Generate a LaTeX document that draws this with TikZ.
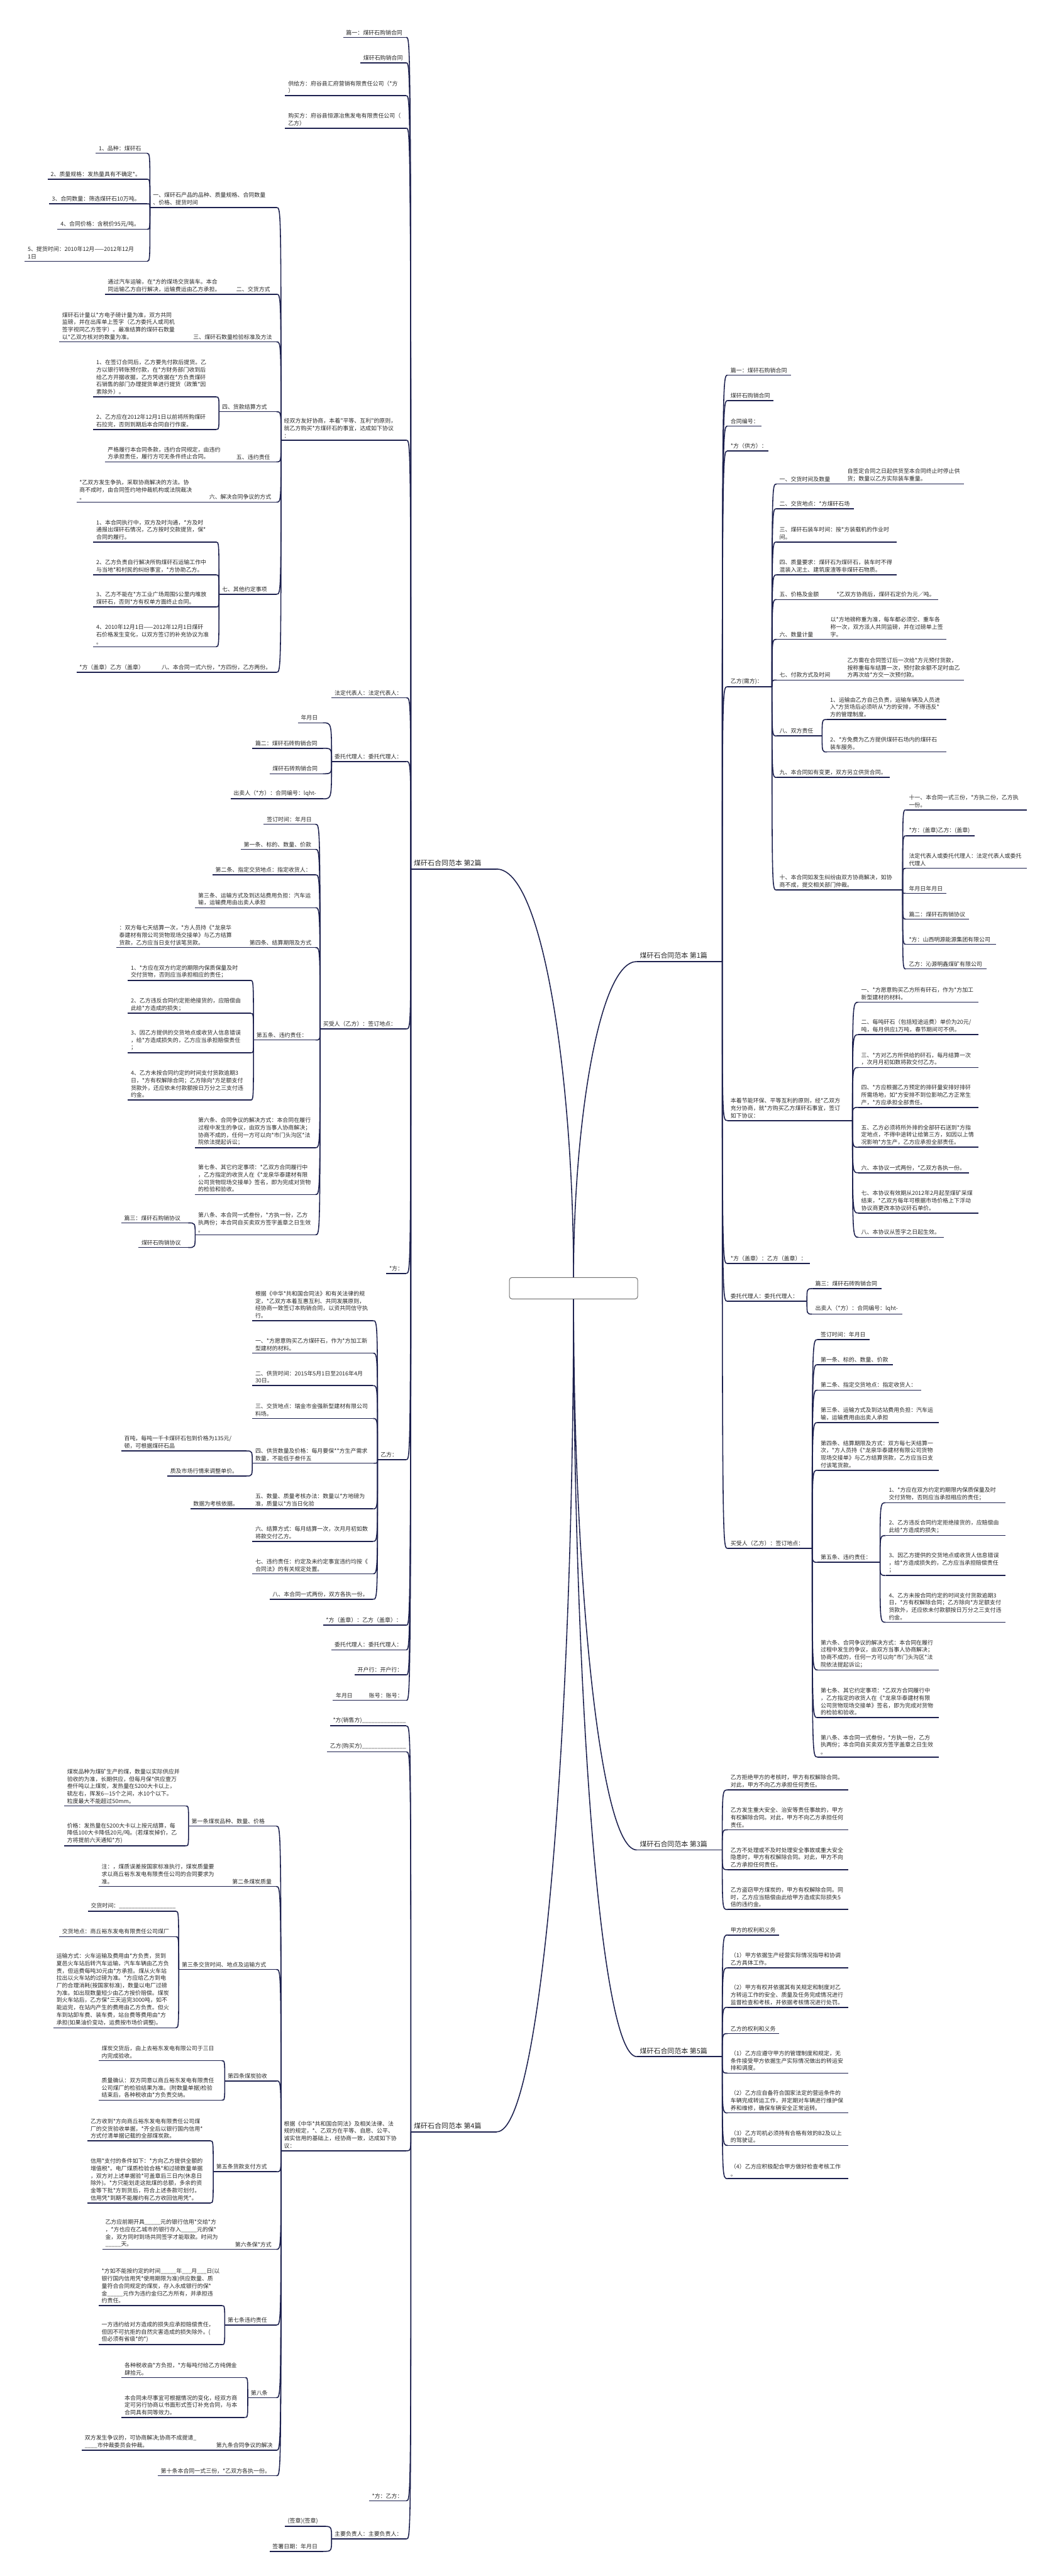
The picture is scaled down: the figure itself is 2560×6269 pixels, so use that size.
\documentclass[tikz,border=0pt]{standalone}
\usepackage{fontspec}
\usetikzlibrary{calc}
\newfontfamily\cjk{Noto Sans CJK SC}
\definecolor{linec}{RGB}{28,32,78}
\definecolor{txtc}{RGB}{40,40,40}
\tikzset{
  txt/.style={anchor=south west, align=left, inner xsep=3.5pt, inner ysep=2.6pt, text=txtc, font=\cjk\fontsize{6.85pt}{8.95pt}\selectfont},
  bigtxt/.style={txt, font=\cjk\fontsize{8.4pt}{10.4pt}\selectfont, inner ysep=3pt},
  ul/.style={draw=linec, line width=1.2pt},
  cn/.style={draw=linec, line width=1.2pt},
  rootbox/.style={draw=black!55, fill=white, rounded corners=3pt, line width=0.8pt, minimum width=156pt, minimum height=26pt}
}
\newcommand\mmN[5]{\coordinate (#1-l) at (#2,#4);\coordinate (#1-r) at (#3,#4);\node[txt] (#1) at (#1-l) {#5};\draw[ul] (#1-l) -- (#1-r);}
\newcommand\mmB[5]{\coordinate (#1-l) at (#2,#4);\coordinate (#1-r) at (#3,#4);\node[bigtxt] (#1) at (#1-l) {#5};\draw[ul] (#1-l) -- (#1-r);}
\newcommand\mmL[2]{\draw[cn] (#1-l) .. controls (#1-l |- #2-r) .. (#2-r);}
\newcommand\mmR[2]{\draw[cn] (#1-r) .. controls (#1-r |- #2-l) .. (#2-l);}
\begin{document}
\begin{tikzpicture}[x=0.5pt,y=-0.5pt]
\fill[white] (0,0) rectangle (2560,6269);
\useasboundingbox (0,0) rectangle (2560,6269);
\node[rootbox] (root) at (1396,3135) {};
% first level
\mmB{L2}{1000}{1209}{2115}{煤矸石合同范本 第2篇}
\mmB{L4}{1000}{1209}{5188}{煤矸石合同范本 第4篇}
\mmB{R1}{1550}{1758}{2340}{煤矸石合同范本 第1篇}
\mmB{R3}{1550}{1758}{4502}{煤矸石合同范本 第3篇}
\mmB{R5}{1550}{1758}{5005}{煤矸石合同范本 第5篇}
\foreach \c in {L2,L4} {\draw[cn] (root) .. controls ($(root.center)!0.5!(root.center |- \c-r)$) and ($(\c-r)!0.6!(root.center |- \c-r)$) .. (\c-r);}
\foreach \c in {R1,R3,R5} {\draw[cn] (root) .. controls ($(root.center)!0.5!(root.center |- \c-l)$) and ($(\c-l)!0.6!(root.center |- \c-l)$) .. (\c-l);}
% ---------- 第2篇 ----------
\mmN{a1}{835}{989}{91}{篇一：煤矸石购销合同}
\mmN{a2}{877}{989}{153}{煤矸石购销合同}
\mmN{a3}{694}{989}{233}{供给方：府谷县汇府营销有限责任公司（*方\\）}
\mmN{a4}{694}{989}{312}{购买方：府谷县恒源冶焦发电有限责任公司（\\乙方）}
\mmN{a5}{684}{989}{1071}{经双方友好协商，本着"平等、互利"的原则，\\就乙方购买*方煤矸石的事宜，达成如下协议\\：}
\mmN{a6}{807}{989}{1698}{法定代表人：法定代表人：}
\mmN{a7}{807}{989}{1853}{委托代理人：委托代理人：}
\mmN{a8}{779}{989}{2504}{买受人（乙方）：签订地点：}
\mmN{a9}{940}{989}{3099}{*方：}
\mmN{a10}{919}{989}{3552}{乙方：}
\mmN{a11}{786}{989}{3955}{*方（盖章）：乙方（盖章）：}
\mmN{a12}{807}{989}{4015}{委托代理人：委托代理人：}
\mmN{a13}{863}{989}{4076}{开户行：开户行：}
\mmN{a14}{891}{989}{4138}{账号：账号：}
\mmN{a14a}{810}{885}{4138}{年月日}
% a5 subtree
\mmN{a5a}{365}{673}{505}{一、煤矸石产品的品种、质量规格、合同数量\\、价格、提货时间}
\mmN{a5a1}{233}{358}{373}{1、品种：煤矸石}
\mmN{a5a2}{116}{358}{436}{2、质量规格：发热量具有不确定*。}
\mmN{a5a3}{119}{358}{496}{3、合同数量：筛选煤矸石10万吨。}
\mmN{a5a4}{140}{358}{558}{4、合同价格：含税价95元/吨。}
\mmN{a5a5}{60}{358}{636}{5、提货时间：2010年12月——2012年12月\\1日}
\mmN{a5b}{568}{673}{716}{二、交货方式}
\mmN{a5b1}{255}{565}{716}{通过汽车运输，在*方的煤场交货装车。本合\\同运输乙方自行解决，运输费运由乙方承担。}
\mmN{a5c}{463}{673}{832}{三、煤矸石数量检验标准及方法}
\mmN{a5c1}{144}{460}{832}{煤矸石计量以*方电子磅计量为准，双方共同\\监磅，并在出库单上签字（乙方委托人或司机\\签字视同乙方签字）。最准结算的煤矸石数量\\以*乙双方核对的数量为准。}
\mmN{a5d}{533}{673}{1002}{四、货款结算方式}
\mmN{a5d1}{227}{526}{966}{1、在签订合同后，乙方要先付款后提货。乙\\方以银行转账预付款，在*方财务部门收到后\\给乙方开据收据，乙方凭收据在*方负责煤矸\\石销售的部门办理提货单进行提货（政策*因\\素除外）。}
\mmN{a5d2}{227}{526}{1045}{2、乙方应在2012年12月1日以前将所购煤矸\\石拉完，否则到期后本合同自行作废。}
\mmN{a5e}{568}{673}{1124}{五、违约责任}
\mmN{a5e1}{255}{565}{1124}{严格履行本合同条款，违约合同规定，由违约\\方承担责任，履行方可无条件终止合同。}
\mmN{a5f}{502}{673}{1222}{六、解决合同争议的方式}
\mmN{a5f1}{186}{499}{1222}{*乙双方发生争执，采取协商解决的方法。协\\商不成时，由合同签约地仲裁机构或法院裁决\\。}
\mmN{a5g}{533}{673}{1446}{七、其他约定事项}
\mmN{a5g1}{227}{526}{1319}{1、本合同执行中，双方及时沟通，*方及时\\通报出煤矸石情况，乙方按时交款提货，保*\\合同的履行。}
\mmN{a5g2}{227}{526}{1399}{2、乙方负责自行解决所购煤矸石运输工作中\\与当地*和村民的纠纷事宜，*方协助乙方。}
\mmN{a5g3}{227}{526}{1477}{3、乙方不能在*方工业广场周围5公里内堆放\\煤矸石，否则*方有权单方面终止合同。}
\mmN{a5g4}{227}{526}{1574}{4、2010年12月1日——2012年12月1日煤矸\\石价格发生变化，以双方签订的补充协议为准\\。}
\mmN{a5h}{386}{673}{1636}{八、本合同一式六份，*方四份，乙方两份。}
\mmN{a5h1}{186}{383}{1636}{*方（盖章）乙方（盖章）}
% a7 subtree
\mmN{a7a}{725}{786}{1759}{年月日}
\mmN{a7b}{614}{786}{1821}{篇二：煤矸石砖购销合同}
\mmN{a7c}{656}{786}{1883}{煤矸石砖购销合同}
\mmN{a7d}{561}{786}{1944}{出卖人（*方）：合同编号：lqht-}
% a8 subtree
\mmN{a8a}{642}{768}{2006}{签订时间：年月日}
\mmN{a8b}{586}{768}{2067}{第一条、标的、数量、价款}
\mmN{a8c}{517}{768}{2129}{第二条、指定交货地点：指定收货人：}
\mmN{a8d}{475}{768}{2209}{第三条、运输方式及到达站费用负担：汽车运\\输，运输费用由出卖人承担}
\mmN{a8e}{600}{768}{2306}{第四条、结算期限及方式}
\mmN{a8e1}{283}{597}{2306}{：双方每七天结算一次，*方人员持《*龙泉华\\泰建材有限公司货物现场交接单》与乙方结算\\货款，乙方应当日支付该笔货款。}
\mmN{a8f}{617}{768}{2531}{第五条、违约责任：}
\mmN{a8f1}{311}{610}{2386}{1、*方应在双方约定的期限内保质保量及时\\交付货物，否则应当承担相应的责任；}
\mmN{a8f2}{311}{610}{2466}{2、乙方违反合同约定拒绝接货的，应赔偿由\\此给*方造成的损失；}
\mmN{a8f3}{311}{610}{2562}{3、因乙方提供的交货地点或收货人信息错误\\，给*方造成损失的，乙方应当承担赔偿责任\\；}
\mmN{a8f4}{311}{610}{2677}{4、乙方未按合同约定的时间支付货款逾期3\\日，*方有权解除合同；乙方除向*方足额支付\\货款外，还应依未付款额按日万分之三支付违\\约金。}
\mmN{a8g}{475}{768}{2793}{第六条、合同争议的解决方式：本合同在履行\\过程中发生的争议，由双方当事人协商解决；\\协商不成的，任何一方可以向*市门头沟区*法\\院依法提起诉讼；}
\mmN{a8h}{475}{768}{2907}{第七条、其它约定事项：*乙双方合同履行中\\，乙方指定的收货人在《*龙泉华泰建材有限\\公司货物现场交接单》签名，即为完成对货物\\的检验和验收。}
\mmN{a8i}{475}{768}{3005}{第八条、本合同一式叁份，*方执一份，乙方\\执两份；本合同自买卖双方签字盖章之日生效\\。}
\mmN{a8i1}{295}{458}{2976}{篇三：煤矸石购销协议}
\mmN{a8i2}{337}{458}{3036}{煤矸石购销协议}
% a10 subtree
\mmN{a10a}{614}{908}{3214}{根据《中华*共和国合同法》和有关法律的规\\定，*乙双方本着互惠互利、共同发展原则，\\经协商一致签订本购销合同，以资共同信守执\\行。}
\mmN{a10b}{614}{908}{3293}{一、*方愿意购买乙方煤矸石，作为*方加工新\\型建材的材料。}
\mmN{a10c}{614}{908}{3372}{二、供货时间：2015年5月1日至2016年4月\\30日。}
\mmN{a10d}{614}{908}{3452}{三、交货地点：瑞金市金强新型建材有限公司\\料场。}
\mmN{a10e}{614}{908}{3561}{四、供货数量及价格：每月要保**方生产需求\\数量，不能低于叁仟五}
\mmN{a10e1}{295}{600}{3531}{百吨，每吨一千卡煤矸石包到价格为135元/\\顿，可根据煤矸石品}
\mmN{a10e2}{407}{600}{3592}{质及市场行情来调整单价。}
\mmN{a10f}{614}{908}{3672}{五、数量、质量考核办法：数量以*方地磅为\\准，质量以*方当日化验}
\mmN{a10f1}{463}{608}{3672}{数据为考核依据。}
\mmN{a10g}{614}{908}{3751}{六、结算方式：每月结算一次，次月月初如数\\将款交付乙方。}
\mmN{a10h}{614}{908}{3830}{七、违约责任：约定及未约定事宜违约均按《\\合同法》的有关规定处置。}
\mmN{a10i}{656}{908}{3892}{八、本合同一式两份，双方各执一份。}
% ---------- 第4篇 ----------
\mmN{d1}{803}{989}{4200}{*方(销售方)\_\_\_\_\_\_\_\_\_\_\_\_\_\_}
\mmN{d2}{796}{989}{4263}{乙方(购买方)\_\_\_\_\_\_\_\_\_\_\_\_\_\_}
\mmN{d3}{684}{989}{5234}{根据《中华*共和国合同法》及相关法律、法\\规的规定，*、乙双方在平等、自愿、公平、\\诚实信用的基础上，经协商一致，达成如下协\\议：}
\mmN{d4}{898}{989}{6086}{*方：乙方：}
\mmN{d5}{807}{989}{6179}{主要负责人：主要负责人：}
\mmN{d5a}{693}{786}{6148}{(签章)(签章)}
\mmN{d5b}{656}{786}{6209}{签署日期：年月日}
\mmN{d3a}{459}{673}{4444}{第一条煤炭品种、数量、价格}
\mmN{d3a1}{156}{452}{4395}{煤炭品种为煤矿生产的煤，数量以实际供应并\\验收的为准，长期供应，但每月保*供应壹万\\叁仟吨以上煤炭，发热量在5200大卡以上，\\硫左右，挥发6—15个之间，水10个以下。\\粒度最大不能超过50mm。}
\mmN{d3a2}{156}{452}{4492}{价格：发热量在5200大卡以上按元结算，每\\降低100大卡降低20元/吨。(若煤炭掉价，乙\\方将提前六天通知*方)}
\mmN{d3b}{558}{673}{4591}{第二条煤炭质量}
\mmN{d3b1}{240}{555}{4591}{注：，煤质误差按国家标准执行，煤炭质量要\\求以商丘裕东发电有限责任公司的合同要求为\\准。}
\mmN{d3c}{435}{673}{4793}{第三条交货时间、地点及运输方式}
\mmN{d3c1}{214}{428}{4651}{交货时间：\_\_\_\_\_\_\_\_\_\_\_\_\_\_\_\_\_\_}
\mmN{d3c2}{144}{428}{4713}{交货地点：商丘裕东发电有限责任公司煤厂}
\mmN{d3c3}{130}{428}{4935}{运输方式：火车运输及费用由*方负责，货到\\夏邑火车站后转汽车运输，汽车车辆由乙方负\\责，但运费每吨30元由*方承担。煤从火车站\\拉出以火车站的过磅为准。*方应给乙方到电\\厂的合理消耗(按国家标准)，数量以电厂过磅\\为准。如出现数量短少由乙方按价赔偿。煤炭\\到火车站后，乙方保*三天运完3000吨，如不\\能运完，在站内产生的费用由乙方负责。但火\\车到站卸车费、装车费，站台费等费用由*方\\承担(如果油价变动，运费按市场价调整)。}
\mmN{d3d}{547}{673}{5064}{第四条煤炭验收}
\mmN{d3d1}{240}{540}{5015}{煤炭交货后，由上去裕东发电有限公司于三日\\内完成验收。}
\mmN{d3d2}{240}{540}{5111}{质量确认：双方同意以商丘裕东发电有限责任\\公司煤厂的检验结果为准。(附数量单据)检验\\结束后，各种税收由*方负责交纳。}
\mmN{d3e}{519}{673}{5285}{第五条货款支付方式}
\mmN{d3e1}{213}{512}{5210}{乙方收到*方向商丘裕东发电有限责任公司煤\\厂的交货验收单据，*齐全后以银行国内信用*\\方式付清单据记载的全部煤炭款。}
\mmN{d3e2}{213}{512}{5361}{信用*支付的条件如下：*方向乙方提供全额的\\增值税*。电厂煤质检验合格*和过磅数量单据\\，双方对上述单据验*可盖章后三日内(休息日\\除外)。*方只能划走这批煤的总额，多余的资\\金等下批*方到货后，符合上述条款可划付。\\信用凭*到期不能履约有乙方收回信用凭*。}
\mmN{d3f}{565}{673}{5474}{第六条保*方式}
\mmN{d3f1}{249}{562}{5474}{乙方应前期开具\_\_\_\_\_元的银行信用*交给*方\\，*方也应在乙城市的银行存入\_\_\_\_\_元的保*\\金，双方同时到场共同签字才能取款。时间为\\\_\_\_\_\_天。}
\mmN{d3g}{547}{673}{5658}{第七条违约责任}
\mmN{d3g1}{240}{540}{5611}{*方如不能按约定的时间\_\_\_\_\_年\_\_\_月\_\_\_日(以\\银行国内信用凭*使用期限为准)供应数量、质\\量符合合同规定的煤炭，存入永成银行的保*\\金\_\_\_\_\_元作为违约金归乙方所有，并承担违\\约责任。}
\mmN{d3g2}{240}{540}{5706}{一方违约给对方造成的损失应承担赔偿责任，\\但因不可抗拒的自然灾害造成的损失除外。(\\但必须有省级*的*)}
\mmN{d3h}{603}{673}{5835}{第八条}
\mmN{d3h1}{296}{596}{5786}{各种税收由*方负担，*方每吨付给乙方纯佣金\\肆拾元。}
\mmN{d3h2}{296}{596}{5883}{本合同未尽事宜可根据情况的变化，经双方商\\定可另行协商以书面形式签订补充合同，与本\\合同具有同等效力。}
\mmN{d3i}{519}{673}{5963}{第九条合同争议的解决}
\mmN{d3i1}{199}{516}{5963}{双方发生争议的，可协商解决;协商不成提请\_\\\_\_\_\_市仲裁委员会仲裁。}
\mmN{d3j}{384}{673}{6025}{第十条本合同一式三份，*乙双方各执一份。}
% ---------- 第1篇 ----------
\mmN{b1}{1771}{1925}{913}{篇一：煤矸石购销合同}
\mmN{b2}{1771}{1883}{975}{煤矸石购销合同}
\mmN{b3}{1771}{1854}{1037}{合同编号：}
\mmN{b4}{1771}{1870}{1097}{*方（供方）：}
\mmN{b5}{1771}{1879}{1671}{乙方(需方)：}
\mmN{b5a}{1890}{2052}{1178}{一、交货时间及数量}
\mmN{b5a1}{2055}{2347}{1178}{自签定合同之日起供货至本合同终止时停止供\\货；数量以乙方实际装车重量。}
\mmN{b5b}{1890}{2078}{1238}{二、交货地点：*方煤矸石场}
\mmN{b5c}{1890}{2182}{1319}{三、煤矸石装车时间：按*方装载机的作业时\\间。}
\mmN{b5d}{1890}{2182}{1399}{四、质量要求：煤矸石为煤矸石，装车时不得\\混装入泥土、建筑废渣等非煤矸石物质。}
\mmN{b5e}{1890}{2026}{1459}{五、价格及金额}
\mmN{b5e1}{2029}{2283}{1459}{*乙双方协商后，煤矸石定价为元／吨。}
\mmN{b5f}{1890}{2011}{1556}{六、数量计量}
\mmN{b5f1}{2014}{2304}{1556}{以*方地磅称重为准，每车都必须空、重车各\\称一次，双方派人共同监磅，并在过磅单上签\\字。}
\mmN{b5g}{1890}{2052}{1655}{七、付款方式及时间}
\mmN{b5g1}{2055}{2347}{1655}{乙方需在合同签订后一次给*方元预付货款，\\按称重每车结算一次，预付款余额不足时由乙\\方再次给*方交一次预付款。}
\mmN{b5h}{1890}{2001}{1791}{八、双方责任}
\mmN{b5h1}{2013}{2304}{1751}{1、运输由乙方自己负责，运输车辆及人员进\\入*方货场后必须听从*方的安排，不得违反*\\方的管理制度。}
\mmN{b5h2}{2013}{2304}{1830}{2、*方免费为乙方提供煤矸石场内的煤矸石\\装车服务。}
\mmN{b5i}{1890}{2166}{1892}{九、本合同如有变更，双方另立供货合同。}
\mmN{b5j}{1890}{2197}{2166}{十、本合同如发生纠纷由双方协商解决，如协\\商不成，提交相关部门仲裁。}
\mmN{b5j1}{2205}{2500}{1971}{十一、本合同一式三份，*方执二份，乙方执\\一份。}
\mmN{b5j2}{2205}{2372}{2034}{*方：(盖章)乙方：(盖章)}
\mmN{b5j3}{2205}{2500}{2113}{法定代表人或委托代理人：法定代表人或委托\\代理人}
\mmN{b5j4}{2205}{2304}{2174}{年月日年月日}
\mmN{b5j5}{2205}{2359}{2237}{篇二：煤矸石购销协议}
\mmN{b5j6}{2205}{2424}{2298}{*方：山西明源能源集团有限公司}
\mmN{b5j7}{2205}{2402}{2358}{乙方：沁源明鑫煤矿有限公司}
\mmN{b6}{1771}{2075}{2727}{本着节能环保、平等互利的原则，经*乙双方\\充分协商，就*方购买乙方煤矸石事宜，签订\\如下协议：}
\mmN{b6a}{2089}{2381}{2439}{一、*方愿意购买乙方所有矸石，作为*方加工\\新型建材的材料。}
\mmN{b6b}{2089}{2381}{2518}{二、每吨矸石（包括短途运费）单价为20元/\\吨，每月供应1万吨，春节期间可不供。}
\mmN{b6c}{2089}{2381}{2598}{三、*方对乙方所供给的矸石，每月结算一次\\，次月月初如数将款交付乙方。}
\mmN{b6d}{2089}{2381}{2695}{四、*方应根据乙方预定的排矸量安排好排矸\\所需场地，如*方安排不到位影响乙方正常生\\产，*方应承担全部责任。}
\mmN{b6e}{2089}{2381}{2792}{五、乙方必须将所外排的全部矸石送到*方指\\定地点，不得中途转让给第三方，如因以上情\\况影响*方生产，乙方应承担全部责任。}
\mmN{b6f}{2089}{2359}{2854}{六、本协议一式两份，*乙双方各执一份。}
\mmN{b6g}{2089}{2381}{2952}{七、本协议有效期从2012年2月起至煤矿采煤\\结束，*乙双方每年可根据市场价格上下浮动\\协议商更改本协议矸石单价。}
\mmN{b6h}{2089}{2298}{3011}{八、本协议从签字之日起生效。}
\mmN{b7}{1771}{1972}{3075}{*方（盖章）：乙方（盖章）：}
\mmN{b8}{1771}{1964}{3167}{委托代理人：委托代理人：}
\mmN{b8a}{1977}{2145}{3136}{篇三：煤矸石砖购销合同}
\mmN{b8b}{1977}{2197}{3198}{出卖人（*方）：合同编号：lqht-}
\mmN{b9}{1771}{1977}{3768}{买受人（乙方）：签订地点：}
\mmN{b9a}{1990}{2117}{3260}{签订时间：年月日}
\mmN{b9b}{1990}{2173}{3321}{第一条、标的、数量、价款}
\mmN{b9c}{1990}{2242}{3383}{第二条、指定交货地点：指定收货人：}
\mmN{b9d}{1990}{2285}{3462}{第三条、运输方式及到达站费用负担：汽车运\\输，运输费用由出卖人承担}
\mmN{b9e}{1990}{2285}{3578}{第四条、结算期限及方式：双方每七天结算一\\次，*方人员持《*龙泉华泰建材有限公司货物\\现场交接单》与乙方结算货款，乙方应当日支\\付该笔货款。}
\mmN{b9f}{1990}{2142}{3802}{第五条、违约责任：}
\mmN{b9f1}{2156}{2448}{3657}{1、*方应在双方约定的期限内保质保量及时\\交付货物，否则应当承担相应的责任；}
\mmN{b9f2}{2156}{2448}{3737}{2、乙方违反合同约定拒绝接货的，应赔偿由\\此给*方造成的损失；}
\mmN{b9f3}{2156}{2448}{3834}{3、因乙方提供的交货地点或收货人信息错误\\，给*方造成损失的，乙方应当承担赔偿责任\\；}
\mmN{b9f4}{2156}{2448}{3948}{4、乙方未按合同约定的时间支付货款逾期3\\日，*方有权解除合同；乙方除向*方足额支付\\货款外，还应依未付款额按日万分之三支付违\\约金。}
\mmN{b9g}{1990}{2285}{4064}{第六条、合同争议的解决方式：本合同在履行\\过程中发生的争议，由双方当事人协商解决；\\协商不成的，任何一方可以向*市门头沟区*法\\院依法提起诉讼；}
\mmN{b9h}{1990}{2285}{4180}{第七条、其它约定事项：*乙双方合同履行中\\，乙方指定的收货人在《*龙泉华泰建材有限\\公司货物现场交接单》签名，即为完成对货物\\的检验和验收。}
\mmN{b9i}{1990}{2285}{4276}{第八条、本合同一式叁份，*方执一份，乙方\\执两份；本合同自买卖双方签字盖章之日生效\\。}
% ---------- 第3篇 ----------
\mmN{c1}{1771}{2064}{4356}{乙方拒绝甲方的考核时，甲方有权解除合同。\\对此，甲方不向乙方承担任何责任。}
\mmN{c2}{1771}{2064}{4453}{乙方发生重大安全、治安等责任事故的，甲方\\有权解除合同。对此，甲方不向乙方承担任何\\责任。}
\mmN{c3}{1771}{2064}{4550}{乙方不处理或不及时处理安全事故或重大安全\\隐患时，甲方有权解除合同。对此，甲方不向\\乙方承担任何责任。}
\mmN{c4}{1771}{2064}{4647}{乙方盗窃甲方煤炭的，甲方有权解除合同。同\\时，乙方应当赔偿由此给甲方造成实际损失5\\倍的违约金。}
% ---------- 第5篇 ----------
\mmN{e1}{1771}{1897}{4709}{甲方的权利和义务}
\mmN{e2}{1771}{2064}{4789}{（1）甲方依据生产经营实际情况指导和协调\\乙方具体工作。}
\mmN{e3}{1771}{2064}{4885}{（2）甲方有权并依据其有关规定和制度对乙\\方转运工作的安全、质量及任务完成情况进行\\监督检查和考核，并依据考核情况进行处罚。}
\mmN{e4}{1771}{1897}{4949}{乙方的权利和义务}
\mmN{e5}{1771}{2064}{5045}{（1）乙方应遵守甲方的管理制度和规定，无\\条件接受甲方依据生产实际情况做出的转运安\\排和调度。}
\mmN{e6}{1771}{2064}{5142}{（2）乙方应自备符合国家法定的营运条件的\\车辆完成转运工作，并定期对车辆进行维护保\\养和维修，确保车辆安全正常运转。}
\mmN{e7}{1771}{2064}{5221}{（3）乙方司机必须持有合格有效的B2及以上\\的驾驶证。}
\mmN{e8}{1771}{2064}{5302}{（4）乙方应积极配合甲方做好检查考核工作\\。}
% ---------- connectors ----------
\foreach \c in {a1,a2,a3,a4,a5,a6,a7,a8,a9,a10,a11,a12,a13,a14} {\mmL{L2}{\c}}
\mmL{a14}{a14a}
\foreach \c in {a5a,a5b,a5c,a5d,a5e,a5f,a5g,a5h} {\mmL{a5}{\c}}
\foreach \c in {a5a1,a5a2,a5a3,a5a4,a5a5} {\mmL{a5a}{\c}}
\mmL{a5b}{a5b1} \mmL{a5c}{a5c1} \mmL{a5d}{a5d1} \mmL{a5d}{a5d2}
\mmL{a5e}{a5e1} \mmL{a5f}{a5f1} \mmL{a5h}{a5h1}
\foreach \c in {a5g1,a5g2,a5g3,a5g4} {\mmL{a5g}{\c}}
\foreach \c in {a7a,a7b,a7c,a7d} {\mmL{a7}{\c}}
\foreach \c in {a8a,a8b,a8c,a8d,a8e,a8f,a8g,a8h,a8i} {\mmL{a8}{\c}}
\mmL{a8e}{a8e1}
\foreach \c in {a8f1,a8f2,a8f3,a8f4} {\mmL{a8f}{\c}}
\mmL{a8i}{a8i1} \mmL{a8i}{a8i2}
\foreach \c in {a10a,a10b,a10c,a10d,a10e,a10f,a10g,a10h,a10i} {\mmL{a10}{\c}}
\mmL{a10e}{a10e1} \mmL{a10e}{a10e2} \mmL{a10f}{a10f1}
\foreach \c in {d1,d2,d3,d4,d5} {\mmL{L4}{\c}}
\mmL{d5}{d5a} \mmL{d5}{d5b}
\foreach \c in {d3a,d3b,d3c,d3d,d3e,d3f,d3g,d3h,d3i,d3j} {\mmL{d3}{\c}}
\mmL{d3a}{d3a1} \mmL{d3a}{d3a2} \mmL{d3b}{d3b1}
\mmL{d3c}{d3c1} \mmL{d3c}{d3c2} \mmL{d3c}{d3c3}
\mmL{d3d}{d3d1} \mmL{d3d}{d3d2} \mmL{d3e}{d3e1} \mmL{d3e}{d3e2}
\mmL{d3f}{d3f1} \mmL{d3g}{d3g1} \mmL{d3g}{d3g2}
\mmL{d3h}{d3h1} \mmL{d3h}{d3h2} \mmL{d3i}{d3i1}
\foreach \c in {b1,b2,b3,b4,b5,b6,b7,b8,b9} {\mmR{R1}{\c}}
\foreach \c in {b5a,b5b,b5c,b5d,b5e,b5f,b5g,b5h,b5i,b5j} {\mmR{b5}{\c}}
\mmR{b5a}{b5a1} \mmR{b5e}{b5e1} \mmR{b5f}{b5f1} \mmR{b5g}{b5g1}
\mmR{b5h}{b5h1} \mmR{b5h}{b5h2}
\foreach \c in {b5j1,b5j2,b5j3,b5j4,b5j5,b5j6,b5j7} {\mmR{b5j}{\c}}
\foreach \c in {b6a,b6b,b6c,b6d,b6e,b6f,b6g,b6h} {\mmR{b6}{\c}}
\mmR{b8}{b8a} \mmR{b8}{b8b}
\foreach \c in {b9a,b9b,b9c,b9d,b9e,b9f,b9g,b9h,b9i} {\mmR{b9}{\c}}
\foreach \c in {b9f1,b9f2,b9f3,b9f4} {\mmR{b9f}{\c}}
\foreach \c in {c1,c2,c3,c4} {\mmR{R3}{\c}}
\foreach \c in {e1,e2,e3,e4,e5,e6,e7,e8} {\mmR{R5}{\c}}
\end{tikzpicture}
\end{document}
